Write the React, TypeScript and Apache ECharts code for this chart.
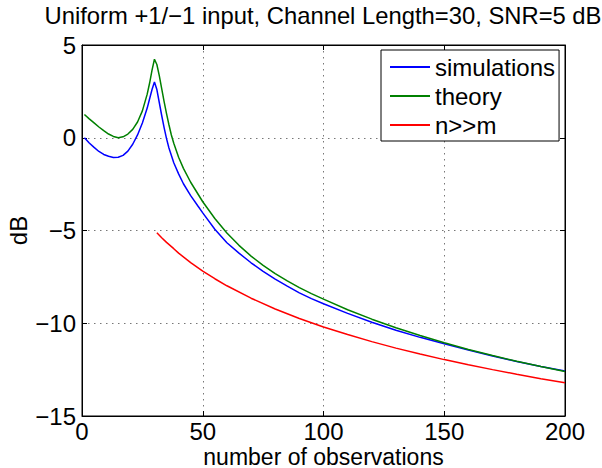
import React, { useEffect, useRef } from "react";
import * as echarts from "echarts";

const FONT = "Liberation Sans, Arial, Helvetica, sans-serif";

const titleText = "Uniform +1/\u22121 input, Channel Length=30, SNR=5 dB";
const seriesNames = ["simulations", "theory", "n>>m"];

const simN = [1, 3, 5, 7, 9, 11, 13, 15, 17, 19, 21, 23, 25, 27, 28, 29, 30, 31, 32, 33, 34, 35, 36, 38, 40, 42, 45, 48, 50, 55, 60, 65, 70, 75, 80, 85, 90, 95, 100, 110, 120, 130, 140, 150, 160, 170, 180, 190, 200];
const simDb = [0.0, -0.28, -0.52, -0.74, -0.9, -1.0, -1.06, -1.05, -0.95, -0.72, -0.35, 0.15, 0.8, 1.6, 2.1, 2.6, 3.0, 2.6, 1.9, 1.2, 0.55, -0.05, -0.55, -1.35, -1.95, -2.48, -3.12, -3.68, -4.05, -4.93, -5.66, -6.22, -6.74, -7.2, -7.62, -8.0, -8.36, -8.67, -8.95, -9.47, -9.95, -10.38, -10.76, -11.1, -11.44, -11.76, -12.06, -12.33, -12.58];

const thN = [1, 3, 5, 7, 9, 11, 13, 15, 17, 19, 21, 23, 25, 27, 28, 29, 30, 31, 32, 33, 34, 35, 36, 37, 38, 40, 42, 45, 50, 55, 60, 65, 70, 75, 80, 85, 90, 95, 100, 110, 120, 130, 140, 150, 160, 170, 180, 190, 200];
const thDb = [1.25, 1.02, 0.8, 0.58, 0.38, 0.2, 0.07, 0.0, 0.05, 0.2, 0.45, 0.85, 1.45, 2.35, 2.95, 3.65, 4.23, 3.95, 3.35, 2.65, 1.95, 1.3, 0.7, 0.15, -0.3, -1.05, -1.65, -2.4, -3.45, -4.35, -5.13, -5.8, -6.38, -6.88, -7.32, -7.72, -8.08, -8.4, -8.7, -9.27, -9.78, -10.24, -10.66, -11.05, -11.41, -11.74, -12.05, -12.33, -12.6];

const asN = [31, 33, 35, 38, 40, 45, 50, 55, 60, 70, 80, 90, 100, 110, 120, 130, 140, 150, 160, 170, 180, 190, 200];
const asDb = [-5.12, -5.39, -5.64, -5.98, -6.22, -6.73, -7.19, -7.6, -7.98, -8.65, -9.23, -9.74, -10.2, -10.61, -10.99, -11.34, -11.66, -11.96, -12.24, -12.5, -12.75, -12.99, -13.21];

const colors = ["#0000ff", "#008000", "#ff0000"];

const zip = (a: number[], b: number[]) => a.map((v, i) => [v, b[i]]);

export default function App() {
  const ref = useRef<HTMLDivElement>(null);
  useEffect(() => {
    document.body.style.margin = "0";
    const chart = echarts.init(ref.current!, null, { renderer: "svg" });
    const tickStyle = { inside: true, length: 5, lineStyle: { color: "#000", width: 1 } };
    const lineAx = { show: true, onZero: false, lineStyle: { color: "#000", width: 1 } };
    const txt = { fontFamily: FONT, fontSize: 24, color: "#000" };
    chart.setOption({
      animation: false,
      backgroundColor: "#fff",
      title: {
        text: titleText,
        left: 318,
        textAlign: "center",
        top: -2,
        textStyle: { ...txt, fontSize: 23.8, fontWeight: "normal" },
      },
      legend: {
        data: seriesNames,
        orient: "vertical",
        left: 381,
        top: 50,
        icon: "rect",
        itemWidth: 40,
        itemHeight: 2,
        itemGap: 5,
        itemTextGap: 5,
        padding: [5, 4, 4, 9],
        borderColor: "#000",
        borderWidth: 1,
        backgroundColor: "#fff",
        textStyle: { ...txt, lineHeight: 24 },
      },
      grid: { left: 82, top: 45, width: 483, height: 371, show: true, borderColor: "#000", borderWidth: 1, backgroundColor: "transparent", outerBoundsMode: "none", containLabel: false },
      xAxis: [
        {
          type: "value", min: 0, max: 200, interval: 50, position: "bottom",
          axisLine: lineAx, axisTick: tickStyle,
          axisLabel: { ...txt, lineHeight: 22, margin: 4, formatter: (v: number) => String(v) },
          splitLine: { show: true, lineStyle: { color: "#777", type: [1.5, 4.5], width: 1 } },
          name: "number of observations", nameLocation: "middle", nameGap: 40.5, nameMoveOverlap: false,
          nameTextStyle: { ...txt, fontSize: 23, lineHeight: 20, verticalAlign: "middle" },
        },
        {
          type: "value", min: 0, max: 200, interval: 50, position: "top",
          axisLine: lineAx, axisTick: tickStyle, axisLabel: { show: false }, splitLine: { show: false },
        },
      ],
      yAxis: [
        {
          type: "value", min: -15, max: 5, interval: 5, position: "left",
          axisLine: lineAx, axisTick: tickStyle,
          axisLabel: { ...txt, margin: 6, formatter: (v: number) => (v < 0 ? "\u2212" + Math.abs(v) : String(v)) },
          splitLine: { show: true, lineStyle: { color: "#777", type: [1.5, 4.5], width: 1 } },
          name: "dB", nameLocation: "middle", nameGap: 64, nameRotate: 90, nameMoveOverlap: false,
          nameTextStyle: { ...txt, verticalAlign: "middle" },
        },
        {
          type: "value", min: -15, max: 5, interval: 5, position: "right",
          axisLine: lineAx, axisTick: tickStyle, axisLabel: { show: false }, splitLine: { show: false },
        },
      ],
      series: [
        { name: seriesNames[0], type: "line", data: zip(simN, simDb), showSymbol: false, smooth: false, lineStyle: { color: colors[0], width: 1.5 }, itemStyle: { color: colors[0] } },
        { name: seriesNames[1], type: "line", data: zip(thN, thDb), showSymbol: false, smooth: false, lineStyle: { color: colors[1], width: 1.5 }, itemStyle: { color: colors[1] } },
        { name: seriesNames[2], type: "line", data: zip(asN, asDb), showSymbol: false, smooth: false, lineStyle: { color: colors[2], width: 1.5 }, itemStyle: { color: colors[2] } },
      ],
    });
    return () => chart.dispose();
  }, []);
  return <div ref={ref} style={{ position: "absolute", left: 0, top: 0, width: 602, height: 468 }} />;
}
